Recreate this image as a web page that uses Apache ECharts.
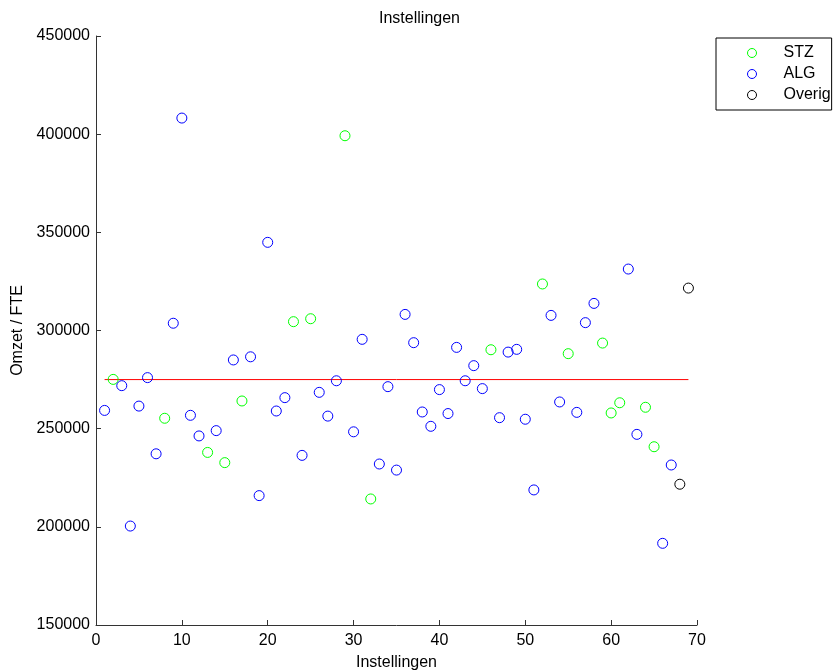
<!DOCTYPE html>
<html>
<head>
<meta charset="utf-8">
<script src="https://cdn.jsdelivr.net/npm/echarts@6/dist/echarts.min.js"></script>
<style>html,body{margin:0;padding:0;background:#fff}#c{width:839px;height:671px}</style>
</head>
<body>
<div id="c"></div>
<script>
// Omzet / FTE per instelling (index 1..69)
const values = [
  259300, 275100, 271900, 200400, 261500, 276000, 237200, 255300, 303700, 408200,
  256800, 246300, 237900, 249000, 232700, 285000, 264100, 286600, 215900, 344900,
  259000, 265800, 304500, 236400, 306000, 268500, 256400, 274400, 399200, 248400,
  295500, 214200, 232000, 271400, 228900, 308200, 293800, 258500, 251200, 269900,
  257700, 291400, 274400, 282100, 270400, 290200, 255600, 289000, 290400, 254800,
  218800, 323700, 307700, 263600, 288200, 258300, 304000, 313800, 293600, 258000,
  263200, 331300, 247100, 260900, 240800, 191600, 231500, 221700, 321600
];
const groups = [
  'ALG','STZ','ALG','ALG','ALG','ALG','ALG','STZ','ALG','ALG',
  'ALG','ALG','STZ','ALG','STZ','ALG','STZ','ALG','ALG','ALG',
  'ALG','ALG','STZ','ALG','STZ','ALG','ALG','ALG','STZ','ALG',
  'ALG','STZ','ALG','ALG','ALG','ALG','ALG','ALG','ALG','ALG',
  'ALG','ALG','ALG','ALG','ALG','STZ','ALG','ALG','ALG','ALG',
  'ALG','STZ','ALG','ALG','STZ','ALG','ALG','ALG','STZ','STZ',
  'STZ','ALG','ALG','STZ','STZ','ALG','ALG','Overig','Overig'
];
const seriesNames = ['STZ', 'ALG', 'Overig'];
const seriesColors = ['#00ff00', '#0000ff', '#000000'];
const refLineX = [1, 69];
const refLineValue = 275000;
const xTicks = { min: 0, max: 70, interval: 10 };
const yTicks = { min: 150000, max: 450000, interval: 50000 };

const font = 'Liberation Sans, Arial, Helvetica, sans-serif';
const scatterSeries = seriesNames.map((name, k) => ({
  name: name,
  type: 'scatter',
  symbol: 'circle',
  symbolSize: 10,
  itemStyle: { color: 'rgba(255,255,255,0)', borderColor: seriesColors[k], borderWidth: 1, opacity: 1 },
  emphasis: { disabled: true },
  data: values.map((v, i) => [i + 1, v]).filter((p, i) => groups[i] === name),
  z: 3
}));

const chart = echarts.init(document.getElementById('c'), null, { renderer: 'canvas' });
chart.setOption({
  animation: false,
  backgroundColor: '#ffffff',
  title: {
    text: 'Instellingen',
    left: 'center',
    top: 6,
    textStyle: { fontFamily: font, fontSize: 16, fontWeight: 'normal', color: '#000' }
  },
  legend: {
    data: seriesNames.map((n, k) => ({
      name: n, icon: 'circle',
      itemStyle: { color: 'rgba(255,255,255,0)', borderColor: seriesColors[k], borderWidth: 1 }
    })),
    orient: 'vertical',
    left: 716,
    top: 38,
    padding: [7, 1, 7, 31],
    itemWidth: 9,
    itemHeight: 9,
    itemGap: 5,
    borderColor: '#000',
    borderWidth: 1,
    backgroundColor: '#fff',
    textStyle: { fontFamily: font, fontSize: 16, color: '#000', padding: [0, 0, 0, 22] }
  },
  grid: { left: 96, right: 142, top: 36, bottom: 46, containLabel: false, outerBoundsMode: 'none' },
  xAxis: {
    type: 'value',
    min: xTicks.min, max: xTicks.max, interval: xTicks.interval,
    name: 'Instellingen',
    nameLocation: 'middle',
    nameGap: 30,
    nameTextStyle: { fontFamily: font, fontSize: 16, color: '#000' },
    axisLine: { lineStyle: { color: '#333', width: 1 } },
    axisTick: { inside: true, length: 5, lineStyle: { color: '#333' } },
    axisLabel: { fontFamily: font, fontSize: 16, color: '#000', margin: 8 },
    splitLine: { show: false }
  },
  yAxis: {
    type: 'value',
    min: yTicks.min, max: yTicks.max, interval: yTicks.interval,
    name: 'Omzet / FTE',
    nameLocation: 'middle',
    nameGap: 64,
    nameTextStyle: { fontFamily: font, fontSize: 16, color: '#000' },
    axisLine: { show: true, lineStyle: { color: '#333', width: 1 } },
    axisTick: { show: true, inside: true, length: 5, lineStyle: { color: '#333' } },
    axisLabel: { fontFamily: font, fontSize: 16, color: '#000', margin: 6, formatter: v => String(v) },
    splitLine: { show: false }
  },
  series: scatterSeries.concat([{
    name: 'mean',
    type: 'line',
    data: refLineX.map(x => [x, refLineValue]),
    symbol: 'none',
    lineStyle: { color: '#ff0000', width: 1 },
    silent: true,
    z: 2
  }])
});
</script>
</body>
</html>
